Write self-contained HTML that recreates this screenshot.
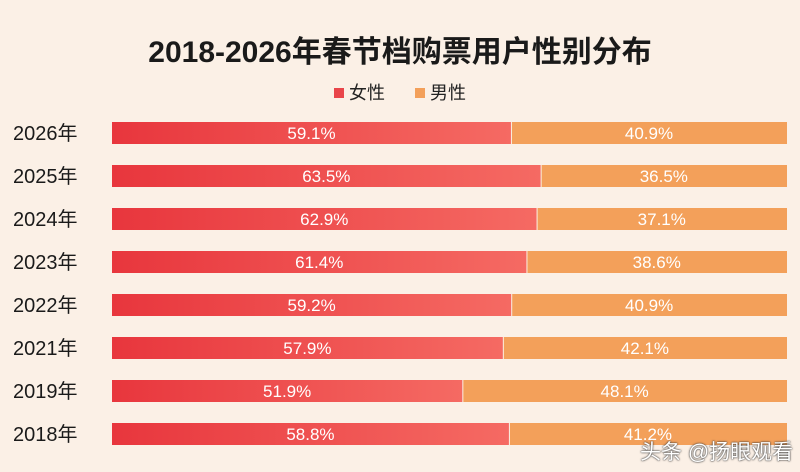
<!DOCTYPE html>
<html><head><meta charset="utf-8"><style>
body{margin:0;width:800px;height:472px;background:#fbf0e6;font-family:"Liberation Sans","Noto Sans CJK SC",sans-serif;overflow:hidden;position:relative}
#title{position:absolute;top:27px;left:0;width:800px;text-align:center;font-size:30px;font-weight:bold;color:#1a1a1a}
#legend{position:absolute;top:79px;left:0;width:800px;text-align:center;font-size:18px;color:#222}
.sw{display:inline-block;width:10px;height:10px;margin-right:5px;vertical-align:1px}
#wm{position:absolute;left:640px;top:436px;font-size:21px;color:#fff;text-shadow:0 0 2px #333,0 0 1px #333;white-space:nowrap}
</style></head><body>
<div id="title">2018-2026年春节档购票用户性别分布</div>
<div id="legend"><span><span class="sw" style="background:#e9454a"></span>女性</span><span style="display:inline-block;width:30px"></span><span><span class="sw" style="background:#f3a05a"></span>男性</span></div>
<svg id="chart" width="800" height="472" style="position:absolute;left:0;top:0">
<defs><linearGradient id="rg" x1="0" x2="1"><stop offset="0" stop-color="#e8363d"/><stop offset="1" stop-color="#f56a63"/></linearGradient></defs>
</svg>
<div id="wm">头条 @扬眼观看</div>
<script>
const years=["2026年","2025年","2024年","2023年","2022年","2021年","2019年","2018年"];
const female=[59.1,63.5,62.9,61.4,59.2,57.9,51.9,58.8];
const male=[40.9,36.5,37.1,38.6,40.9,42.1,48.1,41.2];
const svg=document.getElementById('chart');const NS="http://www.w3.org/2000/svg";
const x0=112,x1=787,y0=122,step=43,bh=22;
function xs(f){return x0+(x1-x0)*f;}
function mk(t,a){const e=document.createElementNS(NS,t);for(const k in a)e.setAttribute(k,a[k]);svg.appendChild(e);return e;}
years.forEach((y,i)=>{
 const top=y0+i*step,tot=female[i]+male[i],xm=xs(female[i]/tot);
 const lab=mk('text',{x:13,y:top+bh/2+7,'font-size':20,fill:'#1a1a1a'});lab.textContent=y;
 
 
 const r1=mk('rect',{x:x0,y:top,width:xm-x0,height:bh,fill:'url(#rg)'});
 
 
 const r2=mk('rect',{x:xm+1,y:top,width:x1-xm-1,height:bh,fill:'#f3a05a'});
 
 
 const t1=mk('text',{x:(x0+xm)/2,y:top+bh/2+6,'font-size':17,fill:'#fff','text-anchor':'middle'});t1.textContent=female[i].toFixed(1)+'%';
 
 
 const t2=mk('text',{x:(xm+x1)/2,y:top+bh/2+6,'font-size':17,fill:'#fff','text-anchor':'middle'});t2.textContent=male[i].toFixed(1)+'%';
 
 
});
</script>
</body></html>
